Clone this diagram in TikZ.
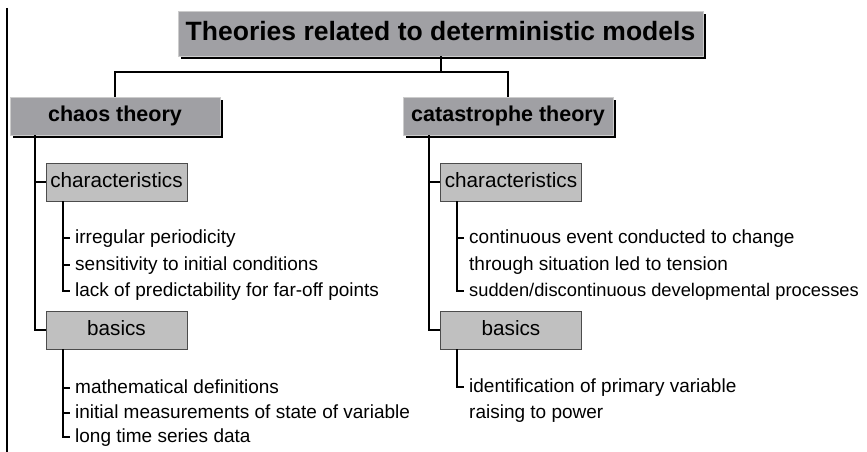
\documentclass[tikz,border=0pt]{standalone}
\usepackage{fontspec}
\setmainfont{Liberation Sans}
\usetikzlibrary{shadows}
\definecolor{topgray}{RGB}{160,160,164}
\definecolor{subgray}{RGB}{192,192,192}

\begin{document}
\begin{tikzpicture}[x=1pt,y=-1pt,
	topbox/.style={fill=topgray, draw=gray!40, line width=0.8pt, font=\bfseries\fontsize{21.5}{24}\selectfont,
		minimum width=210pt, minimum height=38pt, inner sep=0pt, text height=15pt, text depth=4pt,
		drop shadow={shadow xshift=3pt, shadow yshift=-3pt, fill=black, opacity=1}},
	subbox/.style={fill=subgray, draw=black!70, line width=0.8pt, font=\fontsize{20.7}{23}\selectfont,
		minimum width=141pt, minimum height=38pt, inner sep=0pt, text height=14pt, text depth=4pt},
	item/.style={anchor=west, inner xsep=5pt, inner ysep=0pt, font=\fontsize{19}{22}\selectfont,
		text height=13pt, text depth=3pt},
	link/.style={line width=2pt}]
	\useasboundingbox (0,0) rectangle (867,452);

	% rule at the left margin
	\draw[link] (7,8) -- (7,452);

	% boxes
	\node[topbox, minimum width=525pt, minimum height=45pt, font=\bfseries\fontsize{26.5}{30}\selectfont,
		text height=19pt, text depth=5pt] (title) at (440.5,33.5) {Theories related to deterministic models};
	\node[topbox] (chaos) at (115,116) {chaos theory};
	\node[topbox] (catas) at (508,116) {catastrophe theory};
	\node[subbox] (chchar) at (116.5,182) {characteristics};
	\node[subbox] (chbas) at (116.5,330) {basics};
	\node[subbox] (cachar) at (511,182) {characteristics};
	\node[subbox] (cabas) at (511,330) {basics};

	% top level links
	\draw[link] (title.south) -- ++(0,16) -| (chaos.north);
	\draw[link] (title.south) -- ++(0,16) -| (catas.north);
	\foreach \b in {chchar,chbas}
		\draw[link] ([xshift=25pt]chaos.south west) |- (\b.west);
	\foreach \b in {cachar,cabas}
		\draw[link] ([xshift=26pt]catas.south west) |- (\b.west);

	% chaos theory items
	\foreach \y/\txt [count=\i] in {238/irregular periodicity, 265/sensitivity to initial conditions, 291/lack of predictability for far-off points}{
		\node[item] (chc\i) at (70,\y) {\txt};
		\draw[link] ([xshift=17pt]chchar.south west) |- (chc\i.west);
	}
	\foreach \y/\txt [count=\i] in {388/mathematical definitions, 413/initial measurements of state of variable, 437/long time series data}{
		\node[item] (chb\i) at (70,\y) {\txt};
		\draw[link] ([xshift=17pt]chbas.south west) |- (chb\i.west);
	}

	% catastrophe theory items
	\node[item] (cac1) at (464,238) {continuous event conducted to change};
	\node[item] (cac2) at (464,265) {through situation led to tension};
	\node[item, font=\fontsize{18.3}{22}\selectfont] (cac3) at (464,291) {sudden/discontinuous developmental processes};
	\foreach \i in {1,3}
		\draw[link] ([xshift=17pt]cachar.south west) |- (cac\i.west);
	\node[item] (cab1) at (464,387) {identification of primary variable};
	\node[item] (cab2) at (464,413) {raising to power};
	\draw[link] ([xshift=17pt]cabas.south west) |- (cab1.west);

\end{tikzpicture}
\end{document}
